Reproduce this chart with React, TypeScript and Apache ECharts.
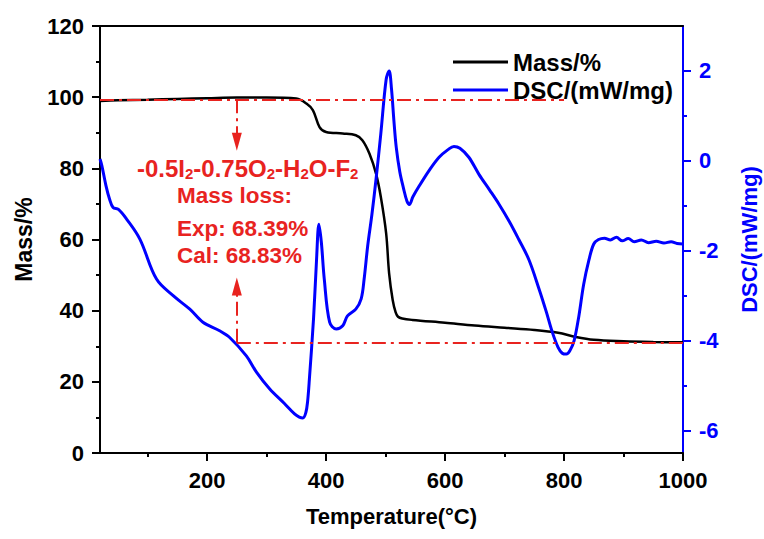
import React, { useEffect, useRef } from "react";
import * as echarts from "echarts";

const FONT = '"Liberation Sans", Arial, Helvetica, sans-serif';
const RED = "#e8231f";
const BLUE = "#0000ff";

// Temperature ticks
const xMajorTicks = [200, 400, 600, 800, 1000];
const xMinorTicks = [100, 300, 500, 700, 900];
const dscMajorTicks = [-6, -4, -2, 0, 2];
const dscMinorTicks = [-5, -3, -1, 1];

// Mass (%) curve
const massTemp = [20, 50, 100, 150, 200, 250, 300, 350, 367, 378, 389, 400, 428, 450, 461, 473, 484, 492, 501, 506, 512, 517, 521, 528, 545, 600, 650, 700, 750, 790, 820, 850, 900, 950, 1000];
const massValue = [98.9, 99.1, 99.3, 99.5, 99.7, 99.9, 99.9, 99.6, 98.2, 96.3, 91.6, 90.2, 89.8, 89.3, 87.9, 84.1, 78.5, 72, 61.7, 50.5, 43, 39.5, 38.3, 37.8, 37.4, 36.6, 35.8, 35.2, 34.6, 33.8, 32.6, 31.8, 31.4, 31.2, 31.1];

// DSC (mW/mg) curve
const dscTemp = [20, 23, 30, 36, 42, 51, 65, 87, 115, 143, 171, 193, 221, 238, 266, 283, 305, 330, 347, 355, 361, 366, 369, 372, 379, 384, 388, 392, 397, 406, 417, 428, 436, 450, 459, 464, 470, 477, 484, 492, 501, 506, 510, 514, 518, 524, 530, 536, 540, 546, 557, 574, 590, 605, 615, 625, 640, 657, 675, 691, 708, 724, 741, 758, 770, 780, 790, 797, 804, 810, 817, 825, 833, 842, 850, 858, 868, 878, 888, 898, 908, 918, 930, 942, 955, 968, 980, 990, 1000];
const dscValue = [0.04, -0.1, -0.55, -0.85, -1.04, -1.08, -1.3, -1.74, -2.63, -3.0, -3.3, -3.59, -3.78, -3.93, -4.34, -4.7, -5.07, -5.4, -5.63, -5.7, -5.72, -5.6, -5.35, -4.85, -3.5, -2.2, -1.41, -1.8, -2.63, -3.59, -3.74, -3.67, -3.45, -3.3, -3.07, -2.63, -1.89, -1.2, -0.41, 0.6, 1.81, 2.0, 1.6, 0.9, 0.3, -0.25, -0.6, -0.9, -0.97, -0.8, -0.55, -0.2, 0.08, 0.25, 0.32, 0.28, 0.08, -0.3, -0.65, -0.97, -1.35, -1.75, -2.2, -2.85, -3.35, -3.8, -4.15, -4.28, -4.3, -4.22, -4.0, -3.45, -2.75, -2.2, -1.85, -1.75, -1.72, -1.76, -1.7, -1.78, -1.73, -1.8, -1.76, -1.82, -1.79, -1.83, -1.8, -1.84, -1.85];

// Annotation levels (data coordinates)
const startMass = 99.4;
const endMass = 31.0;
const arrowTemp = 250;
const topLineEndTemp = 800;
const downArrowTip = 87.5;
const upArrowTip = 46.8;

export default function App() {
  const ref = useRef<HTMLDivElement>(null);

  useEffect(() => {
    if (!ref.current) return;
    const chart = echarts.init(ref.current, undefined, { renderer: "svg" });
    const axisLbl = { fontSize: 22, fontWeight: "bold" as const, fontFamily: FONT };
    const blackLine = { color: "#000", width: 2 };
    const blueLine = { color: BLUE, width: 2 };
    const dashDot = { color: RED, width: 2, type: [14, 5, 3, 5] as any };
    const plain = (v: number) => String(v);

    const option: any = {
      animation: false,
      backgroundColor: "#fff",
      grid: { left: 100, right: 81, top: 26, bottom: 86, containLabel: false, outerBoundsMode: "none" },
      legend: {
        left: 448,
        top: 45,
        orient: "vertical",
        itemWidth: 55,
        itemHeight: 3,
        itemGap: 4,
        data: [
          { name: "Mass/%", icon: "rect" },
          { name: "DSC/(mW/mg)", icon: "rect" },
        ],
        textStyle: { fontSize: 24, fontWeight: "bold", color: "#000", fontFamily: FONT },
      },
      xAxis: [
        {
          type: "value", min: 20, max: 1000, position: "bottom",
          axisLine: { onZero: false, lineStyle: blackLine },
          axisTick: { customValues: xMajorTicks, length: 8, lineStyle: blackLine },
          axisLabel: { ...axisLbl, color: "#000", margin: 16, customValues: xMajorTicks, formatter: plain },
          splitLine: { show: false },
          name: "Temperature(°C)", nameLocation: "middle", nameGap: 52,
          nameTextStyle: { ...axisLbl, color: "#000" },
        },
        {
          type: "value", min: 20, max: 1000, position: "bottom",
          axisLine: { show: false, onZero: false },
          axisTick: { customValues: xMinorTicks, length: 4, lineStyle: blackLine },
          axisLabel: { show: false },
          splitLine: { show: false },
        },
        {
          type: "value", min: 20, max: 1000, position: "top",
          axisLine: { onZero: false, lineStyle: blackLine },
          axisTick: { show: false }, axisLabel: { show: false }, splitLine: { show: false },
        },
      ],
      yAxis: [
        {
          type: "value", min: 0, max: 120, interval: 20, position: "left",
          axisLine: { show: true, onZero: false, lineStyle: blackLine },
          axisTick: { show: true, length: 8, lineStyle: blackLine },
          minorTick: { show: true, splitNumber: 2, length: 4, lineStyle: blackLine },
          axisLabel: { ...axisLbl, color: "#000", margin: 16, formatter: plain },
          splitLine: { show: false },
          name: "Mass/%", nameLocation: "middle", nameGap: 65, nameRotate: 90,
          nameTextStyle: { ...axisLbl, fontSize: 23, color: "#000" },
        },
        {
          type: "value", min: -6.5, max: 3, position: "right",
          axisLine: { show: true, onZero: false, lineStyle: blueLine },
          axisTick: { show: true, customValues: dscMajorTicks, length: 8, lineStyle: blueLine },
          axisLabel: { ...axisLbl, color: BLUE, margin: 16, customValues: dscMajorTicks, formatter: plain },
          splitLine: { show: false },
          name: "DSC/(mW/mg)", nameLocation: "middle", nameGap: 55, nameRotate: 90,
          nameTextStyle: { ...axisLbl, color: BLUE },
        },
        {
          type: "value", min: -6.5, max: 3, position: "right",
          axisLine: { show: false, onZero: false },
          axisTick: { show: true, customValues: dscMinorTicks, length: 4, lineStyle: blueLine },
          axisLabel: { show: false },
          splitLine: { show: false },
        },
      ],
      series: [
        {
          name: "Mass/%", type: "line", xAxisIndex: 0, yAxisIndex: 0,
          data: massTemp.map((t, i) => [t, massValue[i]]),
          symbol: "none", smooth: 0.35, z: 3,
          lineStyle: { color: "#000", width: 2.5 }, itemStyle: { color: "#000" },
        },
        {
          name: "DSC/(mW/mg)", type: "line", xAxisIndex: 0, yAxisIndex: 1,
          data: dscTemp.map((t, i) => [t, dscValue[i]]),
          symbol: "none", smooth: 0.35, z: 4,
          lineStyle: { color: BLUE, width: 3 }, itemStyle: { color: BLUE },
        },
        {
          name: "annot", type: "line", xAxisIndex: 0, yAxisIndex: 0, data: [], z: 5,
          markLine: {
            silent: true, animation: false,
            label: { show: false },
            lineStyle: dashDot,
            symbolSize: [10, 18],
            data: [
              [{ coord: [20, startMass], symbol: "none" }, { coord: [topLineEndTemp, startMass], symbol: "none" }],
              [{ coord: [arrowTemp, startMass], symbol: "none" }, { coord: [arrowTemp, downArrowTip], symbol: "triangle" }],
              [{ coord: [arrowTemp, endMass], symbol: "none" }, { coord: [1000, endMass], symbol: "none" }],
              [{ coord: [arrowTemp, endMass], symbol: "none" }, { coord: [arrowTemp, upArrowTip], symbol: "triangle" }],
            ],
          },
        },
      ],
      graphic: [
        {
          type: "text", x: 137, y: 168, z: 10,
          style: {
            text: "{n|-0.5I}{s|2}{n|-0.75O}{s|2}{n|-H}{s|2}{n|O-F}{s|2}",
            textAlign: "left", textVerticalAlign: "middle",
            rich: {
              n: { fontSize: 24, fontWeight: "bold", fontFamily: FONT, fill: RED },
              s: { fontSize: 15, fontWeight: "bold", fontFamily: FONT, fill: RED, padding: [10, 0, 0, 0] },
            },
          },
        },
        { type: "text", x: 177, y: 195, z: 10, style: { text: "Mass loss:", fill: RED, font: `bold 22.5px ${FONT}`, textAlign: "left", textVerticalAlign: "middle" } },
        { type: "text", x: 177, y: 228, z: 10, style: { text: "Exp: 68.39%", fill: RED, font: `bold 22.5px ${FONT}`, textAlign: "left", textVerticalAlign: "middle" } },
        { type: "text", x: 177, y: 255, z: 10, style: { text: "Cal: 68.83%", fill: RED, font: `bold 22.5px ${FONT}`, textAlign: "left", textVerticalAlign: "middle" } },
      ],
    };
    chart.setOption(option);
    return () => chart.dispose();
  }, []);

  return (
    <div
      ref={ref}
      style={{ position: "absolute", left: 0, top: 0, width: 764, height: 539, background: "#fff" }}
    />
  );
}
